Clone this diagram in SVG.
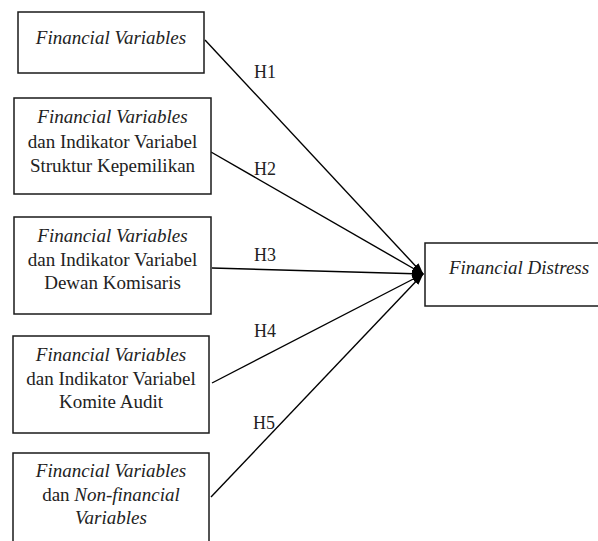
<svg xmlns="http://www.w3.org/2000/svg" width="598" height="541" viewBox="0 0 598 541">
<defs>
<marker id="arr" markerWidth="12" markerHeight="10" refX="11" refY="5" orient="auto" markerUnits="userSpaceOnUse">
<path d="M0,1 L12,5 L0,9 Z" fill="#000"/>
</marker>
<style>
.box{fill:#fff;stroke:#1a1a1a;stroke-width:1.5}
.t{font-family:"Liberation Serif","Times New Roman",serif;font-size:19px;fill:#222;text-anchor:middle}
.i{font-style:italic}
.lbl{font-family:"Liberation Serif","Times New Roman",serif;font-size:18px;fill:#222}
.c{stroke:#000;stroke-width:1.4;fill:none;marker-end:url(#arr)}
</style>
</defs>
<rect width="598" height="541" fill="#fff"/>
<g id="connectors">
<line class="c" x1="205" y1="40" x2="423" y2="274"/>
<line class="c" x1="211" y1="152" x2="423" y2="274"/>
<line class="c" x1="212" y1="268" x2="423" y2="274"/>
<line class="c" x1="212" y1="383" x2="423" y2="274"/>
<line class="c" x1="211" y1="497" x2="423" y2="274"/>
<text class="lbl" x="254" y="78">H1</text>
<text class="lbl" x="254" y="175">H2</text>
<text class="lbl" x="254" y="261">H3</text>
<text class="lbl" x="254" y="337">H4</text>
<text class="lbl" x="253" y="429">H5</text>
</g>
<g id="n1">
<rect class="box" x="18" y="12" width="186" height="61"/>
<text class="t i" x="111" y="44">Financial Variables</text>
</g>
<g id="n2">
<rect class="box" x="14" y="98" width="197" height="96"/>
<text class="t i" x="112.5" y="123">Financial Variables</text>
<text class="t" x="112.5" y="148">dan Indikator Variabel</text>
<text class="t" x="112.5" y="172">Struktur Kepemilikan</text>
</g>
<g id="n3">
<rect class="box" x="14" y="217" width="197" height="97"/>
<text class="t i" x="112.5" y="242">Financial Variables</text>
<text class="t" x="112.5" y="266">dan Indikator Variabel</text>
<text class="t" x="112.5" y="289">Dewan Komisaris</text>
</g>
<g id="n4">
<rect class="box" x="13" y="336" width="196" height="97"/>
<text class="t i" x="111" y="361">Financial Variables</text>
<text class="t" x="111" y="385">dan Indikator Variabel</text>
<text class="t" x="111" y="408">Komite Audit</text>
</g>
<g id="n5">
<rect class="box" x="13" y="453" width="196" height="100"/>
<text class="t i" x="111" y="477">Financial Variables</text>
<text class="t" x="111" y="501">dan <tspan class="i">Non-financial</tspan></text>
<text class="t i" x="111" y="524">Variables</text>
</g>
<g id="n6">
<rect class="box" x="425" y="243" width="180" height="63"/>
<text class="t i" x="519" y="274">Financial Distress</text>
</g>
</svg>
